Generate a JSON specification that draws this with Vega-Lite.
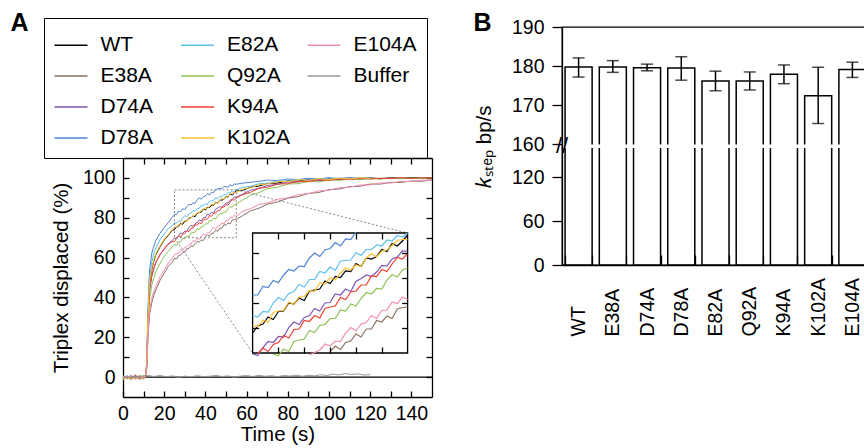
{
"$schema":"https://vega.github.io/schema/vega-lite/v6.json",
"padding":{"left":10,"top":10,"right":0,"bottom":0},
"config":{"font":"Liberation Sans","view":{"stroke":"black","strokeWidth":1.3},
"axis":{"labelFont":"Liberation Sans","titleFont":"Liberation Sans","labelColor":"black","titleColor":"black","tickColor":"black","domainColor":"black","tickWidth":1.3,"domainWidth":1.3,"grid":false,"titleFontWeight":"normal","labelFontSize":19.5,"titleFontSize":20.5},
"legend":{"labelFont":"Liberation Sans"},"title":{"font":"Liberation Sans","color":"black"}},
"datasets":{
"bars":[
{"m":"WT","k":179.8,"lo":177.2,"hi":182.1},
{"m":"E38A","k":179.8,"lo":178.4,"hi":181.4},
{"m":"D74A","k":179.6,"lo":178.8,"hi":180.5},
{"m":"D78A","k":179.5,"lo":176.4,"hi":182.4},
{"m":"E82A","k":176.2,"lo":173.7,"hi":178.7},
{"m":"Q92A","k":176.2,"lo":173.9,"hi":178.5},
{"m":"K94A","k":177.9,"lo":175.5,"hi":180.3},
{"m":"K102A","k":172.4,"lo":165.3,"hi":179.7},
{"m":"E104A","k":179.1,"lo":177.1,"hi":181.0}],
"curves":[
{"s":"WT","t":0,"v":-0.6},{"s":"WT","t":2,"v":0.4},{"s":"WT","t":4,"v":-1.1},{"s":"WT","t":6,"v":0.2},{"s":"WT","t":8,"v":-0.7},{"s":"WT","t":10,"v":0.3},
{"s":"WT","t":11,"v":0},{"s":"WT","t":11.5,"v":6},{"s":"WT","t":12,"v":25},{"s":"WT","t":12.5,"v":39},{"s":"WT","t":13,"v":47},{"s":"WT","t":14,"v":54.2},{"s":"WT","t":15,"v":58.3},{"s":"WT","t":16,"v":61.7},{"s":"WT","t":18,"v":65.4},{"s":"WT","t":20,"v":68.8},{"s":"WT","t":22,"v":71.1},{"s":"WT","t":24,"v":73.9},
{"s":"WT","t":25,"v":74.0},{"s":"WT","t":26,"v":75.4},{"s":"WT","t":27,"v":75.8},{"s":"WT","t":28,"v":77.2},{"s":"WT","t":29,"v":76.7},{"s":"WT","t":30,"v":78.3},{"s":"WT","t":31,"v":78.4},{"s":"WT","t":32,"v":80.0},{"s":"WT","t":33,"v":79.8},{"s":"WT","t":34,"v":81.0},{"s":"WT","t":35,"v":80.5},{"s":"WT","t":36,"v":82.4},{"s":"WT","t":37,"v":82.6},{"s":"WT","t":38,"v":82.8},{"s":"WT","t":39,"v":84.4},{"s":"WT","t":40,"v":83.9},{"s":"WT","t":41,"v":85.3},{"s":"WT","t":42,"v":85.1},{"s":"WT","t":43,"v":86.4},{"s":"WT","t":44,"v":86.3},{"s":"WT","t":45,"v":87.9},{"s":"WT","t":46,"v":87.3},{"s":"WT","t":47,"v":89.0},{"s":"WT","t":48,"v":88.8},{"s":"WT","t":49,"v":89.3},{"s":"WT","t":50,"v":90.7},{"s":"WT","t":51,"v":90.3},{"s":"WT","t":52,"v":91.9},{"s":"WT","t":53,"v":91.4},{"s":"WT","t":54,"v":92.4},{"s":"WT","t":55,"v":93.6},
{"s":"WT","t":58,"v":93.7},{"s":"WT","t":62,"v":95.4},{"s":"WT","t":66,"v":95.9},{"s":"WT","t":70,"v":97.2},{"s":"WT","t":75,"v":97.4},{"s":"WT","t":80,"v":98.5},{"s":"WT","t":85,"v":98.4},{"s":"WT","t":90,"v":99.2},{"s":"WT","t":95,"v":98.9},{"s":"WT","t":100,"v":99.6},{"s":"WT","t":105,"v":99.3},{"s":"WT","t":110,"v":99.8},{"s":"WT","t":115,"v":99.5},{"s":"WT","t":120,"v":100.0},{"s":"WT","t":125,"v":99.6},{"s":"WT","t":130,"v":100.1},{"s":"WT","t":135,"v":99.8},{"s":"WT","t":140,"v":100.2},{"s":"WT","t":145,"v":99.9},{"s":"WT","t":150,"v":100.1},
{"s":"E38A","t":0,"v":0.3},{"s":"E38A","t":2,"v":-0.8},{"s":"E38A","t":4,"v":0.5},{"s":"E38A","t":6,"v":-0.4},{"s":"E38A","t":8,"v":0.6},{"s":"E38A","t":10,"v":-0.9},
{"s":"E38A","t":11,"v":0},{"s":"E38A","t":11.5,"v":4},{"s":"E38A","t":12,"v":16},{"s":"E38A","t":12.5,"v":26},{"s":"E38A","t":13,"v":32},{"s":"E38A","t":14,"v":37.4},{"s":"E38A","t":15,"v":41.2},{"s":"E38A","t":16,"v":43.8},{"s":"E38A","t":18,"v":48.6},{"s":"E38A","t":20,"v":52.1},{"s":"E38A","t":22,"v":55.6},{"s":"E38A","t":24,"v":57.8},
{"s":"E38A","t":25,"v":59.6},{"s":"E38A","t":26,"v":59.3},{"s":"E38A","t":27,"v":61.0},{"s":"E38A","t":28,"v":61.3},{"s":"E38A","t":29,"v":62.7},{"s":"E38A","t":30,"v":62.8},{"s":"E38A","t":31,"v":64.5},{"s":"E38A","t":32,"v":64.5},{"s":"E38A","t":33,"v":65.9},{"s":"E38A","t":34,"v":65.6},{"s":"E38A","t":35,"v":67.1},{"s":"E38A","t":36,"v":68.2},{"s":"E38A","t":37,"v":67.8},{"s":"E38A","t":38,"v":68.8},{"s":"E38A","t":39,"v":68.6},{"s":"E38A","t":40,"v":70.3},{"s":"E38A","t":41,"v":71.4},{"s":"E38A","t":42,"v":70.7},{"s":"E38A","t":43,"v":72.1},{"s":"E38A","t":44,"v":72.4},{"s":"E38A","t":45,"v":73.8},{"s":"E38A","t":46,"v":73.2},{"s":"E38A","t":47,"v":74.8},{"s":"E38A","t":48,"v":74.8},{"s":"E38A","t":49,"v":76.5},{"s":"E38A","t":50,"v":76.2},{"s":"E38A","t":51,"v":77.4},{"s":"E38A","t":52,"v":76.9},{"s":"E38A","t":53,"v":78.8},{"s":"E38A","t":54,"v":79.1},{"s":"E38A","t":55,"v":79.2},
{"s":"E38A","t":58,"v":81.0},{"s":"E38A","t":62,"v":83.5},{"s":"E38A","t":66,"v":84.8},{"s":"E38A","t":70,"v":86.8},{"s":"E38A","t":75,"v":87.9},{"s":"E38A","t":80,"v":89.8},{"s":"E38A","t":85,"v":90.6},{"s":"E38A","t":90,"v":92.2},{"s":"E38A","t":95,"v":92.7},{"s":"E38A","t":100,"v":94.1},{"s":"E38A","t":105,"v":94.4},{"s":"E38A","t":110,"v":95.6},{"s":"E38A","t":115,"v":95.8},{"s":"E38A","t":120,"v":96.9},{"s":"E38A","t":125,"v":96.9},{"s":"E38A","t":130,"v":97.8},{"s":"E38A","t":135,"v":97.7},{"s":"E38A","t":140,"v":98.5},{"s":"E38A","t":145,"v":98.3},{"s":"E38A","t":150,"v":99.0},
{"s":"D74A","t":0,"v":-1.0},{"s":"D74A","t":2,"v":0.6},{"s":"D74A","t":4,"v":-0.3},{"s":"D74A","t":6,"v":0.8},{"s":"D74A","t":8,"v":-1.2},{"s":"D74A","t":10,"v":0.1},
{"s":"D74A","t":11,"v":0.2},{"s":"D74A","t":11.5,"v":5.5},{"s":"D74A","t":12,"v":23},{"s":"D74A","t":12.5,"v":36},{"s":"D74A","t":13,"v":44},{"s":"D74A","t":14,"v":50.6},{"s":"D74A","t":15,"v":54.4},{"s":"D74A","t":16,"v":57.7},{"s":"D74A","t":18,"v":61.3},{"s":"D74A","t":20,"v":64.6},{"s":"D74A","t":22,"v":66.8},{"s":"D74A","t":24,"v":68.9},
{"s":"D74A","t":25,"v":69.8},{"s":"D74A","t":26,"v":69.5},{"s":"D74A","t":27,"v":71.1},{"s":"D74A","t":28,"v":72.3},{"s":"D74A","t":29,"v":72.1},{"s":"D74A","t":30,"v":73.3},{"s":"D74A","t":31,"v":73.2},{"s":"D74A","t":32,"v":75.1},{"s":"D74A","t":33,"v":76.2},{"s":"D74A","t":34,"v":75.7},{"s":"D74A","t":35,"v":77.1},{"s":"D74A","t":36,"v":77.5},{"s":"D74A","t":37,"v":78.9},{"s":"D74A","t":38,"v":78.4},{"s":"D74A","t":39,"v":80.0},{"s":"D74A","t":40,"v":80.1},{"s":"D74A","t":41,"v":81.8},{"s":"D74A","t":42,"v":81.6},{"s":"D74A","t":43,"v":82.8},{"s":"D74A","t":44,"v":82.3},{"s":"D74A","t":45,"v":84.3},{"s":"D74A","t":46,"v":84.9},{"s":"D74A","t":47,"v":85.6},{"s":"D74A","t":48,"v":85.3},{"s":"D74A","t":49,"v":86.2},{"s":"D74A","t":50,"v":87.5},{"s":"D74A","t":51,"v":87.4},{"s":"D74A","t":52,"v":88.8},{"s":"D74A","t":53,"v":89.2},{"s":"D74A","t":54,"v":90.4},{"s":"D74A","t":55,"v":90.3},
{"s":"D74A","t":58,"v":91.8},{"s":"D74A","t":62,"v":93.9},{"s":"D74A","t":66,"v":94.7},{"s":"D74A","t":70,"v":96.2},{"s":"D74A","t":75,"v":96.7},{"s":"D74A","t":80,"v":97.9},{"s":"D74A","t":85,"v":97.9},{"s":"D74A","t":90,"v":98.8},{"s":"D74A","t":95,"v":98.6},{"s":"D74A","t":100,"v":99.4},{"s":"D74A","t":105,"v":99.1},{"s":"D74A","t":110,"v":99.7},{"s":"D74A","t":115,"v":99.3},{"s":"D74A","t":120,"v":99.8},
{"s":"D78A","t":0,"v":0.5},{"s":"D78A","t":2,"v":-0.5},{"s":"D78A","t":4,"v":0.9},{"s":"D78A","t":6,"v":-0.8},{"s":"D78A","t":8,"v":0.2},{"s":"D78A","t":10,"v":-0.4},
{"s":"D78A","t":11,"v":0.5},{"s":"D78A","t":11.5,"v":8},{"s":"D78A","t":12,"v":30},{"s":"D78A","t":12.5,"v":46},{"s":"D78A","t":13,"v":55},{"s":"D78A","t":14,"v":62.3},{"s":"D78A","t":15,"v":65.8},{"s":"D78A","t":16,"v":68.7},{"s":"D78A","t":18,"v":72.3},{"s":"D78A","t":20,"v":75.1},{"s":"D78A","t":22,"v":77.6},{"s":"D78A","t":24,"v":80.4},
{"s":"D78A","t":25,"v":81.6},{"s":"D78A","t":26,"v":81.6},{"s":"D78A","t":27,"v":83.3},{"s":"D78A","t":28,"v":83.1},{"s":"D78A","t":29,"v":84.5},{"s":"D78A","t":30,"v":84.1},{"s":"D78A","t":31,"v":85.6},{"s":"D78A","t":32,"v":86.7},{"s":"D78A","t":33,"v":86.4},{"s":"D78A","t":34,"v":87.4},{"s":"D78A","t":35,"v":87.3},{"s":"D78A","t":36,"v":89.0},{"s":"D78A","t":37,"v":90.0},{"s":"D78A","t":38,"v":89.3},{"s":"D78A","t":39,"v":90.6},{"s":"D78A","t":40,"v":90.9},{"s":"D78A","t":41,"v":92.1},{"s":"D78A","t":42,"v":91.4},{"s":"D78A","t":43,"v":92.8},{"s":"D78A","t":44,"v":92.7},{"s":"D78A","t":45,"v":94.2},{"s":"D78A","t":46,"v":94.5},{"s":"D78A","t":47,"v":94.7},{"s":"D78A","t":48,"v":94.6},{"s":"D78A","t":49,"v":95.6},{"s":"D78A","t":50,"v":95.6},{"s":"D78A","t":51,"v":95.4},{"s":"D78A","t":52,"v":96.7},{"s":"D78A","t":53,"v":95.9},{"s":"D78A","t":54,"v":97.0},{"s":"D78A","t":55,"v":96.8},
{"s":"D78A","t":58,"v":97.4},{"s":"D78A","t":62,"v":97.8},{"s":"D78A","t":66,"v":98.3},{"s":"D78A","t":70,"v":98.9},{"s":"D78A","t":75,"v":98.7},{"s":"D78A","t":80,"v":99.4},{"s":"D78A","t":85,"v":99.2},{"s":"D78A","t":90,"v":99.8},{"s":"D78A","t":95,"v":99.5},{"s":"D78A","t":100,"v":100.1},{"s":"D78A","t":105,"v":99.7},{"s":"D78A","t":110,"v":100.2},{"s":"D78A","t":115,"v":99.8},{"s":"D78A","t":120,"v":100.1},
{"s":"E82A","t":0,"v":-0.2},{"s":"E82A","t":2,"v":0.7},{"s":"E82A","t":4,"v":-0.9},{"s":"E82A","t":6,"v":0.4},{"s":"E82A","t":8,"v":-0.3},{"s":"E82A","t":10,"v":0.6},
{"s":"E82A","t":11,"v":0.3},{"s":"E82A","t":11.5,"v":7},{"s":"E82A","t":12,"v":27},{"s":"E82A","t":12.5,"v":42},{"s":"E82A","t":13,"v":51},{"s":"E82A","t":14,"v":57.8},{"s":"E82A","t":15,"v":62.2},{"s":"E82A","t":16,"v":64.8},{"s":"E82A","t":18,"v":69.1},{"s":"E82A","t":20,"v":71.8},{"s":"E82A","t":22,"v":74.6},{"s":"E82A","t":24,"v":76.1},
{"s":"E82A","t":25,"v":77.5},{"s":"E82A","t":26,"v":77.2},{"s":"E82A","t":27,"v":78.3},{"s":"E82A","t":28,"v":78.2},{"s":"E82A","t":29,"v":80.0},{"s":"E82A","t":30,"v":81.1},{"s":"E82A","t":31,"v":80.5},{"s":"E82A","t":32,"v":81.9},{"s":"E82A","t":33,"v":82.3},{"s":"E82A","t":34,"v":83.7},{"s":"E82A","t":35,"v":83.2},{"s":"E82A","t":36,"v":84.7},{"s":"E82A","t":37,"v":84.7},{"s":"E82A","t":38,"v":86.3},{"s":"E82A","t":39,"v":86.0},{"s":"E82A","t":40,"v":87.2},{"s":"E82A","t":41,"v":86.5},{"s":"E82A","t":42,"v":88.4},{"s":"E82A","t":43,"v":88.5},{"s":"E82A","t":44,"v":88.6},{"s":"E82A","t":45,"v":90.1},{"s":"E82A","t":46,"v":89.5},{"s":"E82A","t":47,"v":90.7},{"s":"E82A","t":48,"v":90.7},{"s":"E82A","t":49,"v":91.6},{"s":"E82A","t":50,"v":91.4},{"s":"E82A","t":51,"v":92.6},{"s":"E82A","t":52,"v":92.4},{"s":"E82A","t":53,"v":93.5},{"s":"E82A","t":54,"v":93.2},{"s":"E82A","t":55,"v":94.0},
{"s":"E82A","t":58,"v":95.2},{"s":"E82A","t":62,"v":95.8},{"s":"E82A","t":66,"v":97.1},{"s":"E82A","t":70,"v":97.3},{"s":"E82A","t":75,"v":98.4},{"s":"E82A","t":80,"v":98.3},{"s":"E82A","t":85,"v":99.2},{"s":"E82A","t":90,"v":98.9},{"s":"E82A","t":95,"v":99.6},{"s":"E82A","t":100,"v":99.4},{"s":"E82A","t":105,"v":99.9},{"s":"E82A","t":110,"v":99.6},{"s":"E82A","t":115,"v":100.1},{"s":"E82A","t":120,"v":99.8},
{"s":"Q92A","t":0,"v":0.6},{"s":"Q92A","t":2,"v":-1.0},{"s":"Q92A","t":4,"v":0.2},{"s":"Q92A","t":6,"v":-0.6},{"s":"Q92A","t":8,"v":0.9},{"s":"Q92A","t":10,"v":-0.5},
{"s":"Q92A","t":11,"v":0},{"s":"Q92A","t":11.5,"v":5},{"s":"Q92A","t":12,"v":21},{"s":"Q92A","t":12.5,"v":33},{"s":"Q92A","t":13,"v":40},{"s":"Q92A","t":14,"v":46.3},{"s":"Q92A","t":15,"v":49.8},{"s":"Q92A","t":16,"v":53.2},{"s":"Q92A","t":18,"v":57.1},{"s":"Q92A","t":20,"v":60.6},{"s":"Q92A","t":22,"v":63.0},{"s":"Q92A","t":24,"v":65.5},
{"s":"Q92A","t":25,"v":66.6},{"s":"Q92A","t":26,"v":66.1},{"s":"Q92A","t":27,"v":67.8},{"s":"Q92A","t":28,"v":67.9},{"s":"Q92A","t":29,"v":69.7},{"s":"Q92A","t":30,"v":69.5},{"s":"Q92A","t":31,"v":70.8},{"s":"Q92A","t":32,"v":70.3},{"s":"Q92A","t":33,"v":72.3},{"s":"Q92A","t":34,"v":72.6},{"s":"Q92A","t":35,"v":72.8},{"s":"Q92A","t":36,"v":74.5},{"s":"Q92A","t":37,"v":74.1},{"s":"Q92A","t":38,"v":75.5},{"s":"Q92A","t":39,"v":75.7},{"s":"Q92A","t":40,"v":76.9},{"s":"Q92A","t":41,"v":76.9},{"s":"Q92A","t":42,"v":78.6},{"s":"Q92A","t":43,"v":78.4},{"s":"Q92A","t":44,"v":79.8},{"s":"Q92A","t":45,"v":79.4},{"s":"Q92A","t":46,"v":80.9},{"s":"Q92A","t":47,"v":82.1},{"s":"Q92A","t":48,"v":81.8},{"s":"Q92A","t":49,"v":82.9},{"s":"Q92A","t":50,"v":82.8},{"s":"Q92A","t":51,"v":84.6},{"s":"Q92A","t":52,"v":85.7},{"s":"Q92A","t":53,"v":85.2},{"s":"Q92A","t":54,"v":86.6},{"s":"Q92A","t":55,"v":87.0},
{"s":"Q92A","t":58,"v":88.8},{"s":"Q92A","t":62,"v":91.4},{"s":"Q92A","t":66,"v":92.6},{"s":"Q92A","t":70,"v":94.6},{"s":"Q92A","t":75,"v":95.3},{"s":"Q92A","t":80,"v":96.9},{"s":"Q92A","t":85,"v":97.1},{"s":"Q92A","t":90,"v":98.2},{"s":"Q92A","t":95,"v":98.0},{"s":"Q92A","t":100,"v":98.9},{"s":"Q92A","t":105,"v":98.8},{"s":"Q92A","t":110,"v":99.4},{"s":"Q92A","t":115,"v":99.2},{"s":"Q92A","t":120,"v":99.7},{"s":"Q92A","t":125,"v":99.4},{"s":"Q92A","t":130,"v":99.9},{"s":"Q92A","t":135,"v":99.6},{"s":"Q92A","t":140,"v":100.0},{"s":"Q92A","t":145,"v":99.7},{"s":"Q92A","t":150,"v":100.0},
{"s":"K94A","t":0,"v":-0.4},{"s":"K94A","t":2,"v":0.3},{"s":"K94A","t":4,"v":-0.7},{"s":"K94A","t":6,"v":1.0},{"s":"K94A","t":8,"v":-0.5},{"s":"K94A","t":10,"v":0.4},
{"s":"K94A","t":11,"v":0.3},{"s":"K94A","t":11.5,"v":6},{"s":"K94A","t":12,"v":24},{"s":"K94A","t":12.5,"v":37},{"s":"K94A","t":13,"v":45},{"s":"K94A","t":14,"v":51.2},{"s":"K94A","t":15,"v":55.1},{"s":"K94A","t":16,"v":57.6},{"s":"K94A","t":18,"v":61.7},{"s":"K94A","t":20,"v":64.1},{"s":"K94A","t":22,"v":66.7},{"s":"K94A","t":24,"v":68.1},
{"s":"K94A","t":25,"v":68.1},{"s":"K94A","t":26,"v":69.9},{"s":"K94A","t":27,"v":71.0},{"s":"K94A","t":28,"v":70.3},{"s":"K94A","t":29,"v":71.7},{"s":"K94A","t":30,"v":72.1},{"s":"K94A","t":31,"v":73.5},{"s":"K94A","t":32,"v":73.0},{"s":"K94A","t":33,"v":74.7},{"s":"K94A","t":34,"v":74.8},{"s":"K94A","t":35,"v":76.5},{"s":"K94A","t":36,"v":76.3},{"s":"K94A","t":37,"v":77.5},{"s":"K94A","t":38,"v":77.0},{"s":"K94A","t":39,"v":78.9},{"s":"K94A","t":40,"v":79.2},{"s":"K94A","t":41,"v":79.4},{"s":"K94A","t":42,"v":81.1},{"s":"K94A","t":43,"v":80.7},{"s":"K94A","t":44,"v":82.2},{"s":"K94A","t":45,"v":82.4},{"s":"K94A","t":46,"v":83.6},{"s":"K94A","t":47,"v":83.6},{"s":"K94A","t":48,"v":85.4},{"s":"K94A","t":49,"v":85.3},{"s":"K94A","t":50,"v":86.7},{"s":"K94A","t":51,"v":86.3},{"s":"K94A","t":52,"v":87.8},{"s":"K94A","t":53,"v":89.1},{"s":"K94A","t":54,"v":88.8},{"s":"K94A","t":55,"v":89.9},
{"s":"K94A","t":58,"v":91.6},{"s":"K94A","t":62,"v":92.8},{"s":"K94A","t":66,"v":94.8},{"s":"K94A","t":70,"v":95.3},{"s":"K94A","t":75,"v":96.9},{"s":"K94A","t":80,"v":97.1},{"s":"K94A","t":85,"v":98.3},{"s":"K94A","t":90,"v":98.1},{"s":"K94A","t":95,"v":99.0},{"s":"K94A","t":100,"v":98.8},{"s":"K94A","t":105,"v":99.5},{"s":"K94A","t":110,"v":99.2},{"s":"K94A","t":115,"v":99.8},{"s":"K94A","t":120,"v":99.4},{"s":"K94A","t":125,"v":99.9},{"s":"K94A","t":130,"v":99.6},{"s":"K94A","t":135,"v":100.1},{"s":"K94A","t":140,"v":99.7},{"s":"K94A","t":145,"v":100.1},{"s":"K94A","t":150,"v":99.9},
{"s":"K102A","t":0,"v":-1.3},{"s":"K102A","t":2,"v":0.2},{"s":"K102A","t":4,"v":-0.8},{"s":"K102A","t":6,"v":-0.2},{"s":"K102A","t":8,"v":-1.0},{"s":"K102A","t":10,"v":0.5},
{"s":"K102A","t":11,"v":0.4},{"s":"K102A","t":11.5,"v":6.5},{"s":"K102A","t":12,"v":26},{"s":"K102A","t":12.5,"v":40},{"s":"K102A","t":13,"v":48},{"s":"K102A","t":14,"v":54.7},{"s":"K102A","t":15,"v":58.9},{"s":"K102A","t":16,"v":62.2},{"s":"K102A","t":18,"v":65.9},{"s":"K102A","t":20,"v":69.2},{"s":"K102A","t":22,"v":71.5},{"s":"K102A","t":24,"v":74.2},
{"s":"K102A","t":25,"v":75.5},{"s":"K102A","t":26,"v":75.3},{"s":"K102A","t":27,"v":76.6},{"s":"K102A","t":28,"v":76.1},{"s":"K102A","t":29,"v":78.1},{"s":"K102A","t":30,"v":78.4},{"s":"K102A","t":31,"v":78.5},{"s":"K102A","t":32,"v":80.2},{"s":"K102A","t":33,"v":79.7},{"s":"K102A","t":34,"v":81.2},{"s":"K102A","t":35,"v":81.3},{"s":"K102A","t":36,"v":82.5},{"s":"K102A","t":37,"v":82.3},{"s":"K102A","t":38,"v":84.0},{"s":"K102A","t":39,"v":83.8},{"s":"K102A","t":40,"v":85.1},{"s":"K102A","t":41,"v":84.6},{"s":"K102A","t":42,"v":86.0},{"s":"K102A","t":43,"v":87.0},{"s":"K102A","t":44,"v":86.6},{"s":"K102A","t":45,"v":87.6},{"s":"K102A","t":46,"v":87.3},{"s":"K102A","t":47,"v":89.0},{"s":"K102A","t":48,"v":89.9},{"s":"K102A","t":49,"v":89.2},{"s":"K102A","t":50,"v":90.4},{"s":"K102A","t":51,"v":90.6},{"s":"K102A","t":52,"v":91.5},{"s":"K102A","t":53,"v":92.5},{"s":"K102A","t":54,"v":92.7},{"s":"K102A","t":55,"v":92.7},
{"s":"K102A","t":58,"v":94.4},{"s":"K102A","t":62,"v":95.1},{"s":"K102A","t":66,"v":96.6},{"s":"K102A","t":70,"v":96.9},{"s":"K102A","t":75,"v":98.2},{"s":"K102A","t":80,"v":98.1},{"s":"K102A","t":85,"v":99.1},{"s":"K102A","t":90,"v":98.8},{"s":"K102A","t":95,"v":99.6},{"s":"K102A","t":100,"v":99.2},{"s":"K102A","t":105,"v":99.9},{"s":"K102A","t":110,"v":99.5},{"s":"K102A","t":115,"v":100.1},{"s":"K102A","t":120,"v":99.7},
{"s":"E104A","t":0,"v":0.1},{"s":"E104A","t":2,"v":-0.6},{"s":"E104A","t":4,"v":0.7},{"s":"E104A","t":6,"v":-1.1},{"s":"E104A","t":8,"v":0.3},{"s":"E104A","t":10,"v":-0.2},
{"s":"E104A","t":11,"v":0.2},{"s":"E104A","t":11.5,"v":4.5},{"s":"E104A","t":12,"v":18},{"s":"E104A","t":12.5,"v":28},{"s":"E104A","t":13,"v":34},{"s":"E104A","t":14,"v":39.6},{"s":"E104A","t":15,"v":43.2},{"s":"E104A","t":16,"v":45.6},{"s":"E104A","t":18,"v":50.4},{"s":"E104A","t":20,"v":53.8},{"s":"E104A","t":22,"v":57.3},{"s":"E104A","t":24,"v":59.6},
{"s":"E104A","t":25,"v":61.5},{"s":"E104A","t":26,"v":61.9},{"s":"E104A","t":27,"v":62.2},{"s":"E104A","t":28,"v":63.9},{"s":"E104A","t":29,"v":63.6},{"s":"E104A","t":30,"v":65.2},{"s":"E104A","t":31,"v":65.4},{"s":"E104A","t":32,"v":66.6},{"s":"E104A","t":33,"v":66.7},{"s":"E104A","t":34,"v":68.4},{"s":"E104A","t":35,"v":68.3},{"s":"E104A","t":36,"v":69.6},{"s":"E104A","t":37,"v":69.2},{"s":"E104A","t":38,"v":70.6},{"s":"E104A","t":39,"v":71.8},{"s":"E104A","t":40,"v":71.4},{"s":"E104A","t":41,"v":72.4},{"s":"E104A","t":42,"v":72.3},{"s":"E104A","t":43,"v":74.0},{"s":"E104A","t":44,"v":75.1},{"s":"E104A","t":45,"v":74.4},{"s":"E104A","t":46,"v":75.8},{"s":"E104A","t":47,"v":76.1},{"s":"E104A","t":48,"v":77.5},{"s":"E104A","t":49,"v":76.9},{"s":"E104A","t":50,"v":78.5},{"s":"E104A","t":51,"v":78.6},{"s":"E104A","t":52,"v":80.2},{"s":"E104A","t":53,"v":79.9},{"s":"E104A","t":54,"v":81.2},{"s":"E104A","t":55,"v":80.7},
{"s":"E104A","t":58,"v":83.2},{"s":"E104A","t":62,"v":84.6},{"s":"E104A","t":66,"v":86.6},{"s":"E104A","t":70,"v":87.4},{"s":"E104A","t":75,"v":89.3},{"s":"E104A","t":80,"v":90.0},{"s":"E104A","t":85,"v":91.6},{"s":"E104A","t":90,"v":92.1},{"s":"E104A","t":95,"v":93.5},{"s":"E104A","t":100,"v":93.8},{"s":"E104A","t":105,"v":95.1},{"s":"E104A","t":110,"v":95.3},{"s":"E104A","t":115,"v":96.4},{"s":"E104A","t":120,"v":96.5},{"s":"E104A","t":125,"v":97.5},{"s":"E104A","t":130,"v":97.4},{"s":"E104A","t":135,"v":98.3},{"s":"E104A","t":140,"v":98.1},{"s":"E104A","t":145,"v":98.9},{"s":"E104A","t":150,"v":98.7},
{"s":"Buffer","t":0,"v":-0.3},{"s":"Buffer","t":3,"v":0.4},{"s":"Buffer","t":6,"v":-0.2},{"s":"Buffer","t":9,"v":0.5},{"s":"Buffer","t":12,"v":0.9},{"s":"Buffer","t":15,"v":0.3},{"s":"Buffer","t":18,"v":0.8},{"s":"Buffer","t":21,"v":0.2},{"s":"Buffer","t":24,"v":0.6},{"s":"Buffer","t":27,"v":-0.1},{"s":"Buffer","t":30,"v":0.5},{"s":"Buffer","t":33,"v":0.1},{"s":"Buffer","t":36,"v":0.7},{"s":"Buffer","t":39,"v":0.2},{"s":"Buffer","t":42,"v":0.4},{"s":"Buffer","t":45,"v":0.9},{"s":"Buffer","t":48,"v":0.3},{"s":"Buffer","t":51,"v":0.6},{"s":"Buffer","t":54,"v":0.0},{"s":"Buffer","t":57,"v":0.5},{"s":"Buffer","t":60,"v":0.8},{"s":"Buffer","t":63,"v":0.3},{"s":"Buffer","t":66,"v":0.9},{"s":"Buffer","t":69,"v":0.4},{"s":"Buffer","t":72,"v":0.7},{"s":"Buffer","t":75,"v":0.2},{"s":"Buffer","t":78,"v":0.8},{"s":"Buffer","t":81,"v":0.5},{"s":"Buffer","t":84,"v":1.0},{"s":"Buffer","t":87,"v":0.4},{"s":"Buffer","t":90,"v":0.9},{"s":"Buffer","t":93,"v":0.6},{"s":"Buffer","t":96,"v":1.2},{"s":"Buffer","t":99,"v":0.8},{"s":"Buffer","t":102,"v":1.5},{"s":"Buffer","t":105,"v":1.1},{"s":"Buffer","t":108,"v":1.8},{"s":"Buffer","t":111,"v":1.3},{"s":"Buffer","t":114,"v":1.6},{"s":"Buffer","t":117,"v":1.0},{"s":"Buffer","t":120,"v":1.2}
]},
"spacing":38,
"resolve":{"scale":{"color":"independent"}},
"hconcat":[
{"vconcat":[
{
"width":309,"height":370,
"view":{"stroke":null},
"title":{"text":"A","anchor":"start","fontSize":25,"fontWeight":"bold","offset":-24,"dx":-33,"dy":14,"baseline":"alphabetic"},
"layer":[
{"layer":[
 {"data":{"values":[{}]},"mark":{"type":"rule","color":"black","strokeWidth":1.3},"encoding":{"y":{"datum":0,"type":"quantitative","scale":{"domain":[-10,110],"range":[370,131],"nice":false}}}},
 {"data":{"name":"curves"},"mark":{"type":"line","strokeWidth":1},
  "encoding":{
   "x":{"field":"t","type":"quantitative","scale":{"domain":[0,150],"nice":false},"axis":{"orient":"bottom","values":[0,10,20,30,40,50,60,70,80,90,100,110,120,130,140],"tickCount":40,"labelExpr":"datum.value % 20 === 0 ? datum.label : ''","labelFlush":false,"labelOverlap":false,"tickSize":-6,"domain":true,"labelPadding":13,"title":"Time (s)","titlePadding":2}},
   "y":{"field":"v","type":"quantitative","scale":{"domain":[-10,110],"range":[370,131],"nice":false},"axis":{"orient":"left","values":[0,10,20,30,40,50,60,70,80,90,100],"tickCount":40,"labelExpr":"datum.value % 20 === 0 ? datum.label : ''","labelOverlap":false,"tickSize":-6,"domain":true,"labelPadding":14,"title":"Triplex displaced (%)","titlePadding":11}},
   "color":{"field":"s","type":"nominal","scale":{"domain":["WT","E38A","D74A","D78A","E82A","Q92A","K94A","K102A","E104A","Buffer"," "],"range":["#000000","#8a7060","#8055b8","#4d82d0","#5cc0ee","#8cc152","#f0402f","#fdc130","#f28cb1","#999999","transparent"]},
    "legend":{"orient":"none","legendX":-79,"legendY":-9,"columns":3,"gridAlign":"all","title":null,"labelFontSize":21,"labelColor":"black","symbolType":"stroke","symbolSize":1089,"symbolStrokeWidth":1.5,"strokeColor":"black","padding":9.5,"columnPadding":13.5,"rowPadding":3,"labelOffset":12,"labelLimit":300}}
  }},
 {"data":{"values":[{"t":25,"t2":55,"v":70,"v2":94}]},"mark":{"type":"rect","filled":false,"color":"#888888","strokeDash":[2,2],"strokeWidth":1},
  "encoding":{"x":{"field":"t","type":"quantitative"},"x2":{"field":"t2"},"y":{"field":"v","type":"quantitative"},"y2":{"field":"v2"}}},
 {"data":{"values":[{"t":55,"v":94,"t2":138.2,"v2":72.3},{"t":25,"v":70,"t2":62.9,"v2":12.1}]},"mark":{"type":"rule","color":"#888888","strokeDash":[2,2],"strokeWidth":1},
  "encoding":{"x":{"field":"t","type":"quantitative"},"x2":{"field":"t2"},"y":{"field":"v","type":"quantitative"},"y2":{"field":"v2"}}}
]},
{"data":{"values":[{"t":0,"v":0}]},"mark":{"type":"point","opacity":0},
 "encoding":{
  "x":{"field":"t","type":"quantitative","scale":{"domain":[0,150],"nice":false},"axis":{"orient":"top","offset":-131,"values":[10,20,30,40,50,60,70,80,90,100,110,120,130,140],"tickCount":40,"labels":false,"domain":true,"tickSize":-6,"title":null,"minExtent":0,"maxExtent":0}},
  "y":{"field":"v","type":"quantitative","scale":{"domain":[-10,110],"range":[370,131],"nice":false},"axis":{"orient":"right","values":[0,10,20,30,40,50,60,70,80,90,100],"tickCount":40,"labels":false,"domain":true,"tickSize":-6,"title":null,"minExtent":0,"maxExtent":0}}
 }},
{"layer":[
 {"data":{"values":[{"t":25,"t2":55,"v":70,"v2":94}]},"mark":{"type":"rect","fill":"white","stroke":"black","strokeWidth":1.3},
  "encoding":{
   "x":{"field":"t","type":"quantitative","scale":{"domain":[25,55],"range":[129.6,284.6],"nice":false},"axis":{"orient":"bottom","offset":-44,"values":[30,35,40,45,50],"tickCount":40,"labels":false,"domain":false,"tickSize":-6,"title":null,"zindex":1,"minExtent":0,"maxExtent":0}},
   "x2":{"field":"t2"},
   "y":{"field":"v","type":"quantitative","scale":{"domain":[70,94],"range":[326,206],"nice":false},"axis":{"orient":"left","offset":-129.6,"values":[75,80,85,90],"tickCount":40,"labels":false,"domain":false,"tickSize":-6,"title":null,"zindex":1,"minExtent":0,"maxExtent":0}},
   "y2":{"field":"v2"}}},
 {"data":{"name":"curves"},"transform":[{"filter":"datum.t >= 25 && datum.t <= 55 && datum.v >= 69.5 && datum.v <= 94.3"}],
  "mark":{"type":"line","strokeWidth":1.2},
  "encoding":{"x":{"field":"t","type":"quantitative"},"y":{"field":"v","type":"quantitative"},"color":{"field":"s","type":"nominal"}}}
]},
{"data":{"values":[{"t":25,"v":70}]},"mark":{"type":"point","opacity":0},
 "encoding":{
  "x":{"field":"t","type":"quantitative","scale":{"domain":[25,55],"range":[129.6,284.6],"nice":false},"axis":{"orient":"top","offset":-206,"values":[30,35,40,45,50],"tickCount":40,"labels":false,"domain":false,"tickSize":-6,"title":null,"zindex":1,"minExtent":0,"maxExtent":0}},
  "y":{"field":"v","type":"quantitative","scale":{"domain":[70,94],"range":[326,206],"nice":false},"axis":{"orient":"right","offset":-24.4,"values":[75,80,85,90],"tickCount":40,"labels":false,"domain":false,"tickSize":-6,"title":null,"zindex":1,"minExtent":0,"maxExtent":0}}
 }}
],
"resolve":{"scale":{"x":"independent","y":"independent"},"axis":{"x":"independent","y":"independent"}}
}],
"resolve":{"scale":{"color":"independent"},"legend":{"color":"independent"}}
},
{"vconcat":[
{
"width":307,"height":238,
"title":{"text":"B","anchor":"start","fontSize":25,"fontWeight":"bold","offset":-24,"dx":-1,"dy":14.75,"baseline":"alphabetic"},
"data":{"name":"bars"},
"layer":[
 {"mark":{"type":"bar","fill":"white","stroke":"black","strokeWidth":1.5},
  "encoding":{
   "x":{"field":"m","type":"nominal","sort":null,"scale":{"paddingInner":0.21,"paddingOuter":0.09},"axis":{"title":null,"labelAngle":270,"labelAlign":"left","labelBaseline":"middle","labelPadding":81,"tickSize":-10,"tickBand":"extent","labelFontSize":19.5,"domain":true,"zindex":1}},
   "y":{"field":"k","type":"quantitative","scale":{"domain":[0,120,160,190],"range":[238,150,117.3,0],"nice":false,"zero":false},"axis":{"title":"𝑘ₛₜₑₚ bp/s","values":[0,60,120,160,170,180,190],"tickCount":40,"labelOverlap":false,"tickSize":10,"labelPadding":8,"titlePadding":17,"titleFontSize":20.5,"domain":true,"zindex":1}}
  }},
 {"data":{"values":[{}]},"mark":{"type":"rect","fill":"white"},"encoding":{"y":{"datum":155.5,"type":"quantitative"},"y2":{"datum":159.7}}},
 {"mark":{"type":"rule","strokeWidth":1.5,"color":"black"},"encoding":{"x":{"field":"m","type":"nominal","sort":null},"y":{"field":"lo","type":"quantitative"},"y2":{"field":"hi"}}},
 {"mark":{"type":"tick","orient":"horizontal","size":12,"thickness":1.5,"color":"black"},"encoding":{"x":{"field":"m","type":"nominal","sort":null},"y":{"field":"lo","type":"quantitative"}}},
 {"mark":{"type":"tick","orient":"horizontal","size":12,"thickness":1.5,"color":"black"},"encoding":{"x":{"field":"m","type":"nominal","sort":null},"y":{"field":"hi","type":"quantitative"}}},
 {"data":{"values":[{}]},"mark":{"type":"text","text":"//","fontSize":22,"dx":-3,"color":"black"},"encoding":{"x":{"datum":"WT","bandPosition":0},"y":{"datum":158,"type":"quantitative"}}}
]
}]}
]
}
